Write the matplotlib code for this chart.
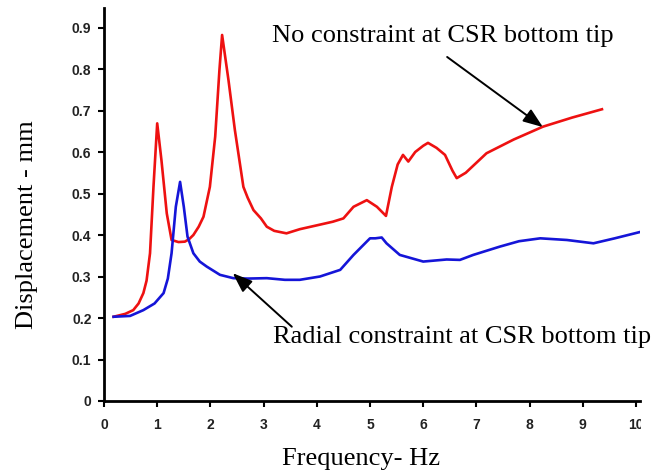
import matplotlib
matplotlib.use("Agg")
import matplotlib.pyplot as plt
from matplotlib.patches import Rectangle

red_x = [0.18, 0.4, 0.55, 0.65, 0.74, 0.8, 0.865, 0.93, 1.0, 1.08, 1.18, 1.27, 1.4, 1.52, 1.6, 1.68, 1.78, 1.87,
         1.99, 2.09, 2.17, 2.22, 2.34, 2.46, 2.62, 2.7, 2.81, 2.95, 3.06, 3.2, 3.43, 3.68, 4.06, 4.3, 4.5, 4.69, 4.94, 5.13,
         5.3, 5.41, 5.52, 5.62, 5.72, 5.85, 6.0, 6.09, 6.25, 6.41, 6.55, 6.63, 6.8, 7.19, 7.7, 8.25, 8.8, 9.36]
red_y = [0.203, 0.21, 0.219, 0.235, 0.26, 0.29, 0.356, 0.516, 0.669, 0.58, 0.452, 0.388, 0.383, 0.384, 0.39, 0.40, 0.42, 0.444,
         0.516, 0.637, 0.798, 0.882, 0.773, 0.653, 0.516, 0.49, 0.46, 0.44, 0.42, 0.41, 0.404, 0.414, 0.425, 0.432, 0.44, 0.468, 0.484, 0.468,
         0.446, 0.516, 0.57, 0.593, 0.577, 0.6, 0.615, 0.622, 0.61, 0.593, 0.555, 0.537, 0.55, 0.597, 0.63, 0.661, 0.683, 0.703]

blue_x = [0.18, 0.49, 0.74, 0.95, 1.12, 1.2, 1.27, 1.35, 1.43, 1.5, 1.57, 1.68, 1.8, 1.93, 2.18, 2.43, 2.7, 3.06, 3.4, 3.68,
          4.06, 4.44, 4.69, 5.0, 5.1, 5.22, 5.31, 5.56, 6.0, 6.44, 6.69, 6.94, 7.44, 7.8, 8.2, 8.7, 9.2, 9.6, 10.1]
blue_y = [0.203, 0.205, 0.219, 0.235, 0.26, 0.295, 0.356, 0.468, 0.528, 0.468, 0.396, 0.356, 0.336, 0.324, 0.304, 0.296, 0.295, 0.296, 0.292, 0.292,
          0.3, 0.316, 0.352, 0.392, 0.392, 0.394, 0.38, 0.352, 0.336, 0.341, 0.34, 0.352, 0.372, 0.385, 0.392, 0.388, 0.38, 0.392, 0.408]

x_ticks = [0, 1, 2, 3, 4, 5, 6, 7, 8, 9, 10]
y_ticks = [0, 0.1, 0.2, 0.3, 0.4, 0.5, 0.6, 0.7, 0.8, 0.9]
y_ticklabels = ["0", "0.1", "0.2", "0.3", "0.4", "0.5", "0.6", "0.7", "0.8", "0.9"]

fig = plt.figure(figsize=(6.64, 4.74), dpi=100)
ax = fig.add_axes([104/664, 73/474, 536/664, 393/474])

ax.plot(red_x, red_y, color='#ee1111', lw=1.9, solid_joinstyle='round')
ax.plot(blue_x, blue_y, color='#1515d8', lw=1.9, solid_joinstyle='round')

ax.set_xlim(0, 10.075)
ax.set_ylim(0, 0.947)
ax.set_xticks(x_ticks)
ax.set_xticklabels([str(t) for t in x_ticks])
ax.set_yticks(y_ticks)
ax.set_yticklabels(y_ticklabels)

for lab in ax.get_xticklabels() + ax.get_yticklabels():
    lab.set_fontfamily(['Liberation Sans Narrow', 'Liberation Sans', 'DejaVu Sans'])
    lab.set_fontweight('bold')
    lab.set_fontsize(10)
    lab.set_color('#222222')

ax.tick_params(axis='x', direction='out', length=4, width=1.5, pad=8)
ax.tick_params(axis='y', direction='out', length=4, width=1.5, pad=5)
for s in ['top', 'right']:
    ax.spines[s].set_visible(False)
for s in ['left', 'bottom']:
    ax.spines[s].set_linewidth(2)

serif = ['Liberation Serif', 'DejaVu Serif']
ax.set_xlabel('Frequency- Hz', family=serif, fontsize=19, va='center')
ax.xaxis.set_label_coords((361 - 104) / 536, (401 - 459) / 393)
ax.set_ylabel('Displacement - mm', family=serif, fontsize=19, va='center')
ax.yaxis.set_label_coords((27 - 104) / 536, (401 - 225) / 393)

ax.text(3.16, 0.88, 'No constraint at CSR bottom tip', family=serif, fontsize=19, ha='left', va='center')
ax.text(3.18, 0.154, 'Radial constraint at CSR bottom tip', family=serif, fontsize=19, ha='left', va='center')

arrowprops = dict(arrowstyle='-|>,head_length=1.2,head_width=0.45', color='black', lw=1.4, shrinkA=0, shrinkB=0)
ax.annotate('', xy=(8.25, 0.660), xytext=(6.45, 0.829), arrowprops=arrowprops)
ax.annotate('', xy=(2.42, 0.308), xytext=(3.53, 0.179), arrowprops=arrowprops)

# reference image is cropped at the right edge below the axis
fig.patches.append(Rectangle((641/664, 0), 1 - 641/664, (474 - 404) / 474, transform=fig.transFigure,
                             facecolor='white', edgecolor='none', zorder=10))

fig.savefig('out.png', dpi=100)
